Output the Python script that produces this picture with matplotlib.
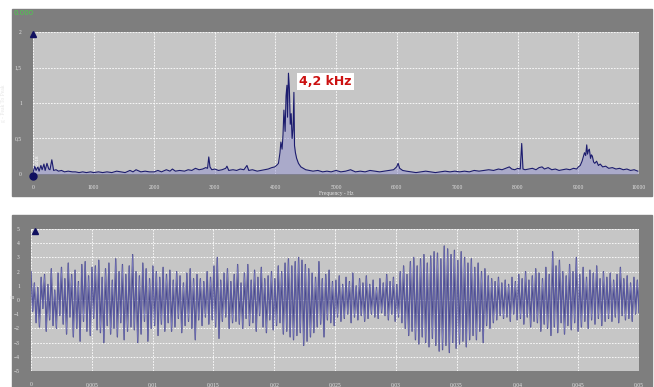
import numpy as np
import matplotlib.pyplot as plt
from matplotlib.patches import Rectangle

# %%
# Spectrum
freq_hz = [0, 30, 50, 80, 100, 130, 150, 180, 200, 230, 260, 280, 310, 340, 380, 420, 470, 520,
           580, 650, 700, 760, 820, 880, 950, 1000, 1080, 1150, 1220, 1300, 1380, 1450, 1520,
           1600, 1650, 1700, 1780, 1850, 1920, 2000, 2060, 2120, 2200, 2260, 2300, 2350, 2420,
           2500, 2560, 2620, 2680, 2740, 2800, 2850, 2880, 2900, 2920, 2950, 3000, 3060, 3120,
           3180, 3200, 3230, 3300, 3360, 3420, 3480, 3530, 3560, 3620, 3700, 3760, 3820, 3880,
           3940, 3990, 4030, 4050, 4075, 4090, 4110, 4125, 4140, 4160, 4175, 4190, 4200, 4215,
           4230, 4245, 4260, 4275, 4290, 4305, 4315, 4330, 4350, 4380, 4420, 4460, 4500, 4560,
           4620, 4700, 4780, 4850, 4920, 5000, 5080, 5160, 5240, 5320, 5400, 5480, 5560, 5640,
           5720, 5800, 5880, 5950, 6000, 6025, 6050, 6100, 6160, 6240, 6320, 6400, 6480, 6560,
           6640, 6720, 6800, 6880, 6960, 7040, 7120, 7200, 7280, 7360, 7440, 7520, 7600, 7680,
           7740, 7800, 7860, 7900, 7950, 8000, 8040, 8064, 8085, 8120, 8180, 8240, 8300, 8350,
           8400, 8440, 8500, 8560, 8620, 8680, 8740, 8800, 8860, 8920, 8970, 9000, 9030, 9060,
           9080, 9100, 9120, 9137, 9150, 9165, 9180, 9200, 9215, 9230, 9250, 9270, 9300, 9330,
           9360, 9400, 9450, 9500, 9560, 9620, 9680, 9740, 9800, 9860, 9920, 9980]
amp_g = [0.02, 0.11, 0.05, 0.10, 0.04, 0.12, 0.06, 0.14, 0.05, 0.15, 0.07, 0.06, 0.20, 0.05,
         0.06, 0.04, 0.05, 0.03, 0.04, 0.03, 0.03, 0.02, 0.03, 0.02, 0.03, 0.02, 0.03, 0.02,
         0.03, 0.02, 0.04, 0.03, 0.02, 0.05, 0.03, 0.06, 0.03, 0.04, 0.03, 0.03, 0.05, 0.03,
         0.06, 0.04, 0.07, 0.04, 0.05, 0.04, 0.06, 0.05, 0.08, 0.06, 0.07, 0.09, 0.08, 0.24,
         0.10, 0.06, 0.07, 0.05, 0.06, 0.08, 0.11, 0.05, 0.06, 0.05, 0.07, 0.06, 0.12, 0.05,
         0.06, 0.04, 0.05, 0.06, 0.07, 0.09, 0.10, 0.13, 0.15, 0.30, 0.45, 0.35, 0.55, 0.90,
         0.60, 1.10, 1.25, 0.80, 1.42, 1.20, 0.70, 0.85, 0.50, 0.62, 1.15, 0.40, 0.30, 0.22,
         0.15, 0.10, 0.08, 0.06, 0.05, 0.04, 0.05, 0.03, 0.04, 0.03, 0.05, 0.03, 0.04, 0.06,
         0.03, 0.04, 0.03, 0.05, 0.04, 0.03, 0.04, 0.05, 0.06, 0.10, 0.15, 0.08, 0.05, 0.04,
         0.03, 0.02, 0.03, 0.04, 0.03, 0.02, 0.03, 0.04, 0.03, 0.04, 0.03, 0.04, 0.03, 0.05,
         0.04, 0.05, 0.06, 0.05, 0.07, 0.06, 0.08, 0.10, 0.07, 0.06, 0.08, 0.07, 0.43, 0.07,
         0.06, 0.07, 0.08, 0.06, 0.09, 0.10, 0.07, 0.09, 0.06, 0.07, 0.05, 0.06, 0.07, 0.06,
         0.08, 0.07, 0.10, 0.12, 0.18, 0.24, 0.30, 0.26, 0.41, 0.28, 0.33, 0.35, 0.22, 0.27,
         0.25, 0.17, 0.15, 0.18, 0.12, 0.14, 0.10, 0.11, 0.08, 0.09, 0.07, 0.08, 0.06, 0.07,
         0.05, 0.06, 0.04]

# Time signal extrema, 0 .. 0.05 s
accel = [2.0, -0.8, 1.2, -1.6, 0.9, -1.9, 1.6, -0.6, 1.8, -2.2, 1.1, -1.4, 2.2, -1.8, 0.7, -2.0, 1.9, -1.1, 2.3, -1.7,
         1.5, -2.4, 2.6, -1.2, 1.8, -2.6, 2.1, -2.0, 1.3, -2.9, 2.5, -1.5, 2.7, -2.2, 1.7, -2.5, 2.3, -1.3, 2.4, -2.1,
         2.8, -2.3, 1.6, -3.0, 2.2, -1.8, 2.6, -2.4, 1.4, -2.0, 2.9, -2.6, 2.0, -1.6, 2.5, -2.8, 1.8, -2.2, 2.4, -1.9,
         3.2, -2.1, 2.0, -3.0, 1.7, -2.4, 2.6, -1.5, 2.2, -2.9, 1.5, -2.0, 2.4, -1.8, 2.0, -2.5, 1.6, -1.7, 2.3, -2.2,
         1.8, -1.6, 2.1, -2.2, 1.4, -1.9, 2.0, -1.3, 1.7, -2.3, 1.2, -1.8, 1.9, -1.5, 2.2, -2.0, 1.5, -2.8, 1.8, -1.4,
         1.5, -1.8, 1.3, -1.2, 2.0, -1.7, 1.6, -1.4, 2.4, -1.9, 3.0, -2.7, 1.4, -1.5, 1.9, -1.2, 2.2, -2.0, 1.3, -1.6,
         1.8, -1.5, 2.5, -1.7, 1.2, -2.0, 1.9, -1.3, 2.5, -1.8, 1.4, -1.6, 2.1, -2.2, 1.6, -1.1, 2.3, -1.9, 1.5, -2.3,
         1.7, -1.4, 2.0, -2.1, 1.5, -1.8, 2.4, -1.6, 2.0, -2.4, 2.6, -2.2, 2.9, -2.6, 2.4, -2.8, 2.7, -2.5, 3.0, -2.3,
         2.8, -3.2, 2.5, -2.9, 2.2, -2.6, 1.9, -2.3, 1.6, -1.9, 2.7, -1.7, 1.5, -2.6, 1.8, -1.4, 2.1, -1.6, 1.3, -1.8,
         1.4, -1.2, 1.7, -1.5, 1.1, -1.3, 1.6, -1.0, 1.3, -1.6, 1.9, -1.2, 1.0, -1.4, 1.5, -1.1, 1.2, -1.5, 1.7, -1.3,
         1.1, -1.0, 1.4, -1.2, 0.9, -1.3, 1.5, -0.9, 1.2, -1.1, 1.8, -1.4, 1.3, -1.0, 1.6, -1.5, 1.1, -1.2, 2.0, -1.6,
         2.4, -2.0, 1.8, -2.5, 2.7, -2.2, 3.0, -2.8, 2.4, -3.1, 2.9, -2.6, 3.2, -3.0, 2.6, -3.3, 3.1, -2.7, 3.4, -3.2,
         3.3, -3.6, 2.9, -3.5, 3.8, -3.2, 3.6, -3.7, 3.2, -3.0, 3.5, -3.4, 2.8, -3.1, 3.4, -2.9, 3.0, -3.3, 2.6, -2.8,
         2.9, -2.5, 2.3, -2.8, 2.6, -2.2, 2.0, -3.0, 2.2, -1.8, 1.7, -2.0, 1.5, -1.6, 1.3, -1.4, 1.6, -1.1, 1.2, -1.3,
         1.4, -1.2, 1.1, -1.5, 1.6, -1.0, 1.3, -1.4, 1.8, -1.3, 1.5, -1.7, 2.0, -1.2, 1.4, -1.9, 1.7, -1.5, 2.2, -1.6,
         1.9, -2.2, 1.5, -1.7, 2.3, -2.0, 1.8, -2.5, 3.4, -1.9, 2.4, -2.3, 2.8, -1.6, 2.0, -2.4, 1.7, -1.8, 2.5, -2.1,
         2.0, -1.6, 3.0, -2.2, 1.8, -1.9, 2.3, -1.5, 1.6, -2.0, 2.1, -1.4, 1.9, -1.7, 2.4, -1.3, 1.5, -1.8, 2.0, -1.5,
         1.6, -1.3, 1.9, -1.5, 1.4, -1.2, 1.8, -1.6, 2.3, -1.1, 1.5, -1.4, 1.7, -1.3, 1.2, -1.5, 1.6, -1.0, 1.4, -0.9]

top_xticks = list(range(0, 10001, 1000))
top_yticks = [0, 0.5, 1, 1.5, 2]
top_ylabels = ['0', '0,5', '1', '1,5', '2']
bot_xticks = [0, 0.005, 0.01, 0.015, 0.02, 0.025, 0.03, 0.035, 0.04, 0.045, 0.05]
bot_xlabels = ['0', '0,005', '0,01', '0,015', '0,02', '0,025', '0,03', '0,035', '0,04', '0,045', '0,05']
bot_yticks = list(range(-5, 6))

# %%
DARK = '#7e7e7e'
PANEL = '#c6c6c6'
NAVY = '#1c1c6e'
LIGHT = '#8a8ad0'
SERIF = 'Liberation Serif'

fig = plt.figure(figsize=(6.54, 3.87), dpi=100)
fig.patches.append(Rectangle((0.0183, 0.4935), 0.9786, 0.4832, transform=fig.transFigure,
                             color=DARK, zorder=-5))
fig.patches.append(Rectangle((0.0183, 0.0), 0.9786, 0.4444, transform=fig.transFigure,
                             color=DARK, zorder=-5))


def style_axes(ax):
    ax.set_facecolor(PANEL)
    for s in ax.spines.values():
        s.set_visible(False)
    ax.tick_params(length=0, labelsize=4, colors='#e6e6e6', pad=8)
    for lbl in ax.get_xticklabels() + ax.get_yticklabels():
        lbl.set_family(SERIF)
    ax.grid(True, color='white', linestyle=(0, (2, 1.5)), linewidth=0.6)
    ax.set_axisbelow(True)


# Top: spectrum
ax1 = fig.add_axes([0.0505, 0.5504, 0.9266, 0.3669])
ax1.fill_between(freq_hz, amp_g, 0, color=LIGHT, alpha=0.45, linewidth=0)
ax1.plot(freq_hz, amp_g, color=NAVY, linewidth=0.8)
ax1.set_xlim(0, 10000)
ax1.set_ylim(0, 2)
ax1.set_xticks(top_xticks)
ax1.set_xticklabels([str(v) for v in top_xticks])
ax1.set_yticks(top_yticks)
ax1.set_yticklabels(top_ylabels)
style_axes(ax1)
ax1.set_xlabel('Frequency - Hz', fontsize=4, color='#e6e6e6', labelpad=1, family=SERIF)
ax1.set_ylabel('g - Peak To Peak', fontsize=4, color='#e6e6e6', labelpad=6, family=SERIF)
ax1.plot([0], [1.97], marker='^', color='#101060', markersize=4, clip_on=False)
ax1.plot([0], [-0.03], marker='o', color='#101060', markersize=5, clip_on=False)
ax1.text(40, 0.12, '0,018', rotation=90, fontsize=3, color='white')
ax1.text(4390, 1.25, '4,2 kHz', fontsize=9, fontweight='bold', color='#cc1111',
         bbox=dict(facecolor='white', edgecolor='none', pad=1.5))
fig.text(0.02, 0.962, '0.000', fontsize=5, color='#4ccc4c')

# Bottom: time signal
t = np.linspace(0, 0.05, len(accel))
ax2 = fig.add_axes([0.0474, 0.0413, 0.9297, 0.367])
ax2.plot(t, accel, color=NAVY, linewidth=0.9, alpha=0.85)
ax2.plot(t, accel, color=LIGHT, linewidth=0.35, alpha=0.9)
ax2.set_xlim(0, 0.05)
ax2.set_ylim(-5, 5)
ax2.set_xticks(bot_xticks)
ax2.set_xticklabels(bot_xlabels)
ax2.set_yticks(bot_yticks)
style_axes(ax2)
ax2.set_ylabel('m', fontsize=4, color='#e6e6e6', labelpad=1, rotation=0, family=SERIF)
ax2.plot([0.0003], [4.85], marker='^', color='#101060', markersize=4, clip_on=False)

fig.savefig('out.png', dpi=100)
